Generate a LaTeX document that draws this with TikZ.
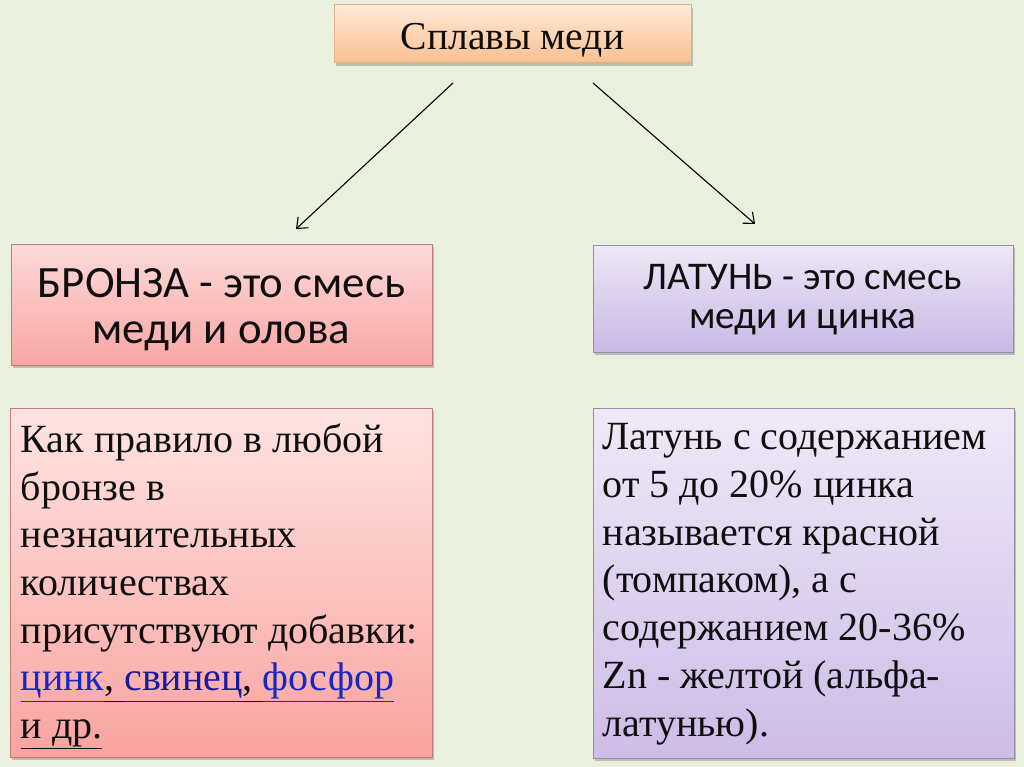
\documentclass[tikz,border=0pt]{standalone}
\usepackage{fontspec}
\setmainfont{Liberation Serif}
\newfontfamily\calib{Carlito}
\usetikzlibrary{arrows.meta,shadows}
\definecolor{bg}{RGB}{233,240,221}
\definecolor{topA}{RGB}{254,233,216}
\definecolor{topB}{RGB}{250,192,144}
\definecolor{topD}{RGB}{222,178,140}
\definecolor{brA}{RGB}{253,218,218}
\definecolor{brB}{RGB}{249,165,165}
\definecolor{brD}{RGB}{196,122,122}
\definecolor{brbA}{RGB}{254,228,226}
\definecolor{brbB}{RGB}{249,163,160}
\definecolor{ltA}{RGB}{238,231,247}
\definecolor{ltB}{RGB}{200,184,229}
\definecolor{ltD}{RGB}{150,140,172}
\definecolor{ltbA}{RGB}{239,233,247}
\definecolor{ltbB}{RGB}{205,188,231}
\definecolor{linkA}{RGB}{20,40,200}
\definecolor{linkB}{RGB}{25,25,160}
\definecolor{ink}{RGB}{15,15,15}
\newcommand\myul[1]{\underline{\vphantom{р}#1}}
\begin{document}
\begin{tikzpicture}[x=1pt,y=-1pt,
  box/.style={rectangle, line width=1pt, inner sep=0pt, text=ink,
    drop shadow={shadow xshift=2pt, shadow yshift=-3pt, opacity=0.3, fill=black!70}},
  topbox/.style={box, draw=topD, top color=topA, bottom color=topB},
  brbox/.style={box, draw=brD, top color=brA, bottom color=brB},
  brbody/.style={box, draw=brD, top color=brbA, bottom color=brbB},
  ltbox/.style={box, draw=ltD, top color=ltA, bottom color=ltB},
  ltbody/.style={box, draw=ltD, top color=ltbA, bottom color=ltbB},
  bodytext/.style={inner sep=0pt, align=left, text=ink, font=\fontsize{40}{47.7}\selectfont},
  plain/.style={inner sep=0pt, align=center, text=ink},
  arr/.style={line width=1.1pt, -{Straight Barb[length=9pt,width=15pt]}}
]
\useasboundingbox (0,0) rectangle (1024,767);
\fill[bg] (0,0) rectangle (1024,767);

\node[topbox, minimum width=357pt, minimum height=58pt] (top) at (512.5,34) {};
\node[plain, font=\fontsize{39.6}{44}\selectfont, anchor=base] (toptxt)
  at ([yshift=-16pt]top.center) {Сплавы меди};

\node[brbox, minimum width=421pt, minimum height=121pt] (bronze) at (221.5,304.5) {};
\node[plain, font=\calib\fontsize{44.8}{46}\selectfont, anchor=base] (brtxt)
  at ([yshift=7.5pt]bronze.center) {БРОНЗА - это смесь};
\node[plain, font=\calib\fontsize{44.8}{46}\selectfont, anchor=base] (brtxt2)
  at ([yshift=-38.5pt]bronze.center) {меди и олова};

\node[ltbox, minimum width=420pt, minimum height=107pt] (latun) at (803,298.5) {};
\node[plain, font=\calib\fontsize{39.2}{39}\selectfont, anchor=base] (lttxt)
  at ([yshift=9.5pt]latun.center) {ЛАТУНЬ - это смесь};
\node[plain, font=\calib\fontsize{39.2}{39}\selectfont, anchor=base] (lttxt2)
  at ([yshift=-29.5pt]latun.center) {меди и цинка};

\node[brbody, minimum width=422pt, minimum height=349pt] (bbody) at (221,582.5) {};
\node[ltbody, minimum width=421pt, minimum height=350pt] (lbody) at (803.5,583) {};

\node[bodytext, anchor=north west] (btext) at ([shift={(11,16)}]bbody.north west)
  {Как правило в любой\\
   бронзе в\\
   незначительных\\
   количествах\\
   присутствуют добавки:\\
   {\color{linkA}\myul{цинк}}\myul{,\ }{\color{linkB}\myul{свинец}}\myul{,\ }{\color{linkA}\myul{фосфор}}\\
   \myul{и др.}};

\node[bodytext, anchor=north west] (ltext) at ([shift={(10,16)}]lbody.north west)
  {Латунь с содержанием\\
   от 5 до 20\% цинка\\
   называется красной\\
   (томпаком), а с\\
   содержанием 20-36\%\\
   Zn - желтой (альфа-\\
   латунью).};

\coordinate (a1s) at (453,83);
\coordinate (a1e) at (296,229);
\coordinate (a2s) at (593,83);
\coordinate (a2e) at (755,224);
\draw[arr] (a1s) -- (a1e);
\draw[arr] (a2s) -- (a2e);
\end{tikzpicture}
\end{document}
